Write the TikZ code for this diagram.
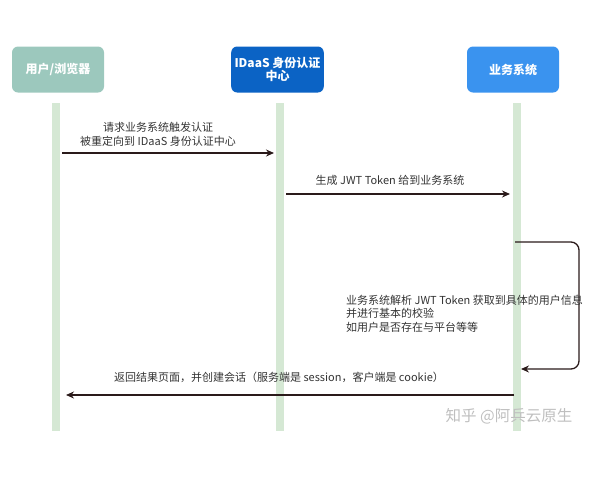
\documentclass[tikz,border=0pt]{standalone}
\usepackage{fontspec}
\setmainfont{Noto Sans CJK SC}
\usetikzlibrary{arrows.meta}
\definecolor{userfill}{HTML}{9CC8BD}
\definecolor{idaasfill}{HTML}{0B63C5}
\definecolor{appfill}{HTML}{3A93EF}
\definecolor{lifegreen}{HTML}{D5E8D4}
\definecolor{msgline}{HTML}{2A1A1A}
\definecolor{msgtext}{HTML}{333333}
\begin{document}
\begin{tikzpicture}[x=1pt,y=-1pt,
    actor/.style={draw=none, rounded corners=6pt, minimum width=92pt, minimum height=46pt,
        text=white, align=center, font=\bfseries\fontsize{12}{13.5}\selectfont},
    lifeline/.style={draw=lifegreen, line width=8pt},
    msg/.style={draw=msgline, line width=1.3pt, -{Stealth[length=8pt,width=7pt]}},
    msglabel/.style={text=msgtext, font=\fontsize{11}{13.5}\selectfont, inner sep=0pt}]
        \useasboundingbox (0,0) rectangle (600,480);

        % lifelines
        \coordinate (1t) at (56,103);  \coordinate (1b) at (56,431);
        \coordinate (2t) at (280,103); \coordinate (2b) at (280,431);
        \coordinate (3t) at (517,103); \coordinate (3b) at (517,431);
        \path[lifeline] (1t) -- (1b);
        \path[lifeline] (2t) -- (2b);
        \path[lifeline] (3t) -- (3b);

        % participants
        \node[actor, fill=userfill] (1) at (58,69.5) {用户/浏览器};
        \node[actor, fill=idaasfill] (2) at (277.5,69.5) {IDaaS 身份认证\\中心};
        \node[actor, fill=appfill] (3) at (513,69.5) {业务系统};

        % message end points
        \coordinate (a1) at (62,153);  \coordinate (a2) at (274,153);
        \coordinate (b1) at (286,194); \coordinate (b2) at (510,194);
        \coordinate (c1) at (515,242); \coordinate (c2) at (579,242);
        \coordinate (c3) at (579,369); \coordinate (c4) at (521,369);
        \coordinate (d1) at (514,395); \coordinate (d2) at (66,395);

        \path[msg] (a1) -- (a2);
        \path[msg] (b1) -- (b2);
        \path[msg, rounded corners=8pt] (c1) -- (c2) -- (c3) -- (c4);
        \path[msg] (d1) -- (d2);

        \node[msglabel, align=center] (m1) at (158,134.5) {请求业务系统触发认证\\被重定向到 IDaaS 身份认证中心};
        \node[msglabel] (m2) at (390,180) {生成 JWT Token 给到业务系统};
        \node[msglabel, align=left, anchor=west] (m3) at (346,313.5)
            {业务系统解析 JWT Token 获取到具体的用户信息\\并进行基本的校验\\如用户是否存在与平台等等};
        \node[msglabel] (m4) at (279,377) {返回结果页面，并创建会话（服务端是 session，客户端是 cookie）};

        \node[text=black!25, font=\fontsize{15.5}{17}\selectfont, inner sep=0pt] (zh) at (509,416) {知乎 @阿兵云原生};
    \end{tikzpicture}
\end{document}
